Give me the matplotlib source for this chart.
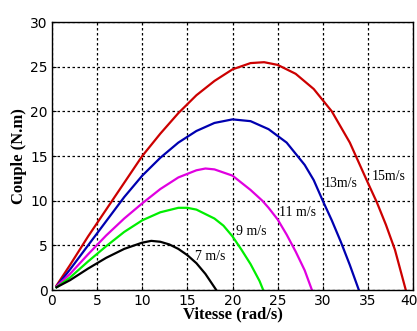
import matplotlib
matplotlib.use("Agg")
import matplotlib.pyplot as plt
from matplotlib.transforms import ScaledTranslation

# ---- data ----
x15 = [0.5, 2, 4, 6, 8, 10, 12, 14, 16, 18, 20, 22, 23.5, 25, 27, 29, 31, 33, 35, 36, 37, 38, 39.2]
y15 = [0.5, 2.8, 6, 9, 12, 15, 17.5, 19.8, 21.8, 23.4, 24.7, 25.4, 25.5, 25.2, 24.2, 22.5, 20, 16.5, 12, 9.8, 7.3, 4.5, 0]

x13 = [0.5, 2, 4, 6, 8, 10, 12, 14, 16, 18, 20, 22, 24, 26, 28, 29, 30, 31, 32, 33, 34]
y13 = [0.4, 2.3, 5, 7.7, 10.4, 12.8, 14.8, 16.5, 17.8, 18.7, 19.1, 18.9, 18, 16.5, 14, 12.3, 10, 7.8, 5.4, 2.8, 0]

x11 = [0.5, 2, 4, 6, 8, 10, 12, 14, 16, 17, 18, 20, 22, 23.3, 24, 25, 26, 27, 28, 28.8]
y11 = [0.4, 1.8, 4, 6.1, 8, 9.7, 11.3, 12.6, 13.4, 13.6, 13.5, 12.8, 11.2, 10, 9.2, 7.9, 6.2, 4.3, 2.2, 0]

x9 = [0.5, 2, 4, 6, 8, 10, 12, 14, 15, 16, 18, 19, 20, 21, 22, 23, 23.4]
y9 = [0.3, 1.4, 3.2, 4.9, 6.5, 7.8, 8.7, 9.2, 9.2, 9.0, 8.0, 7.2, 6.0, 4.5, 2.9, 1.0, 0]

x7 = [0.5, 2, 4, 6, 8, 10, 11, 12, 13, 14, 15, 16, 17, 18.2]
y7 = [0.3, 1.1, 2.4, 3.6, 4.6, 5.3, 5.5, 5.4, 5.1, 4.6, 3.9, 3.0, 1.8, 0]

labels = ["15m/s", "13m/s", "11 m/s", "9 m/s", "7 m/s"]
label_pos = [(35.4, 12.0), (30.1, 11.2), (25.1, 8.0), (20.4, 5.8), (15.8, 3.0)]
xticks = [0, 5, 10, 15, 20, 25, 30, 35, 40]
yticks = [0, 5, 10, 15, 20, 25, 30]

series = [(x15, y15, "#cc0000"), (x13, y13, "#0000b0"), (x11, y11, "#e000e0"),
          (x9, y9, "#00ee00"), (x7, y7, "black")]

serif = "Liberation Serif"

fig = plt.figure(figsize=(4.17, 3.31), dpi=100)
ax = fig.add_axes([52/417, 1 - 290/331, (413-52)/417, (290-22)/331])

for xs, ys, c in series:
    ax.plot(xs, ys, color=c, lw=1.6)

for t, (lx, ly) in zip(labels, label_pos):
    ax.text(lx, ly, t, fontsize=10, family=serif, color="black", va="bottom", ha="left")

ax.set_xlim(0, 40)
ax.set_ylim(0, 30)
ax.set_xticks(xticks)
ax.set_yticks(yticks)
ax.grid(True, color="black", linestyle=(0, (2, 2)), linewidth=0.9)
ax.tick_params(direction="in", length=3, width=0.8, labelsize=10, pad=3)
for s in ax.spines.values():
    s.set_linewidth(1.0)

# keep the last x tick label inside the figure
fig.canvas.draw()
last = ax.get_xticklabels()[-1]
last.set_transform(last.get_transform() + ScaledTranslation(-4/100, 0, fig.dpi_scale_trans))

ax.set_xlabel("Vitesse (rad/s)", family=serif, fontweight="bold", fontsize=12, labelpad=-1)
ax.set_ylabel("Couple (N.m)", family=serif, fontweight="bold", fontsize=12, labelpad=2)

fig.savefig("out.png", dpi=100)
